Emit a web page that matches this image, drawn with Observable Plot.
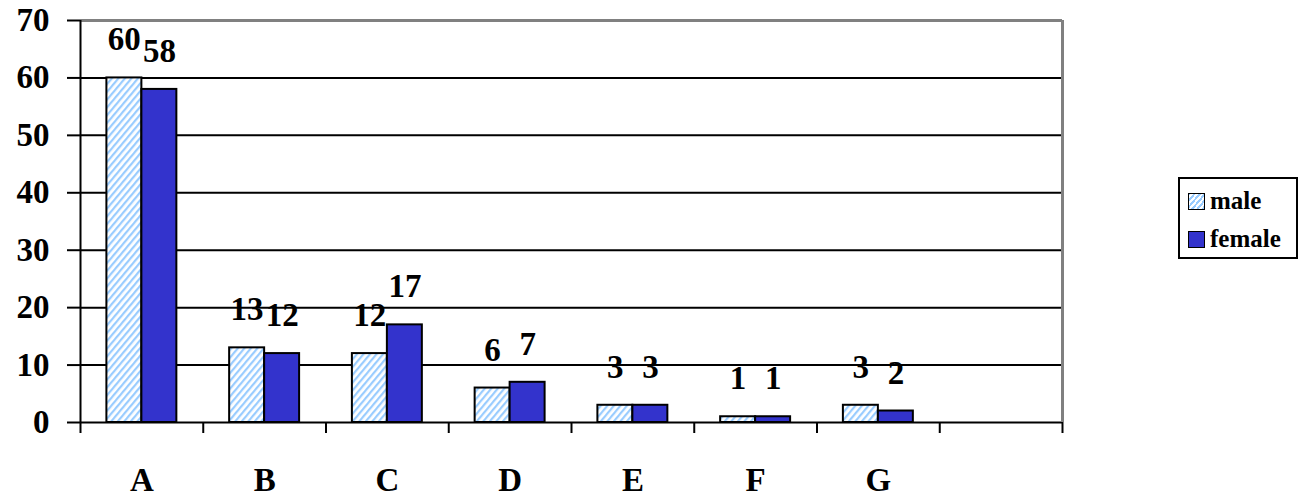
<!DOCTYPE html>
<html>
<head>
<meta charset="utf-8">
<script src="https://cdn.jsdelivr.net/npm/d3@7"></script>
<script src="https://cdn.jsdelivr.net/npm/@observablehq/plot@0.6"></script>
<style>
  html, body { margin: 0; padding: 0; background: #fff; }
  #wrap { position: relative; width: 1302px; height: 500px; }
  #legend {
    position: absolute; left: 1178px; top: 177px; width: 116px; height: 78px;
    border: 2px solid #000; background: #fff;
    font-family: "Liberation Serif", Tinos, "DejaVu Serif", serif; font-weight: bold; font-size: 25px;
  }
  .item { position: absolute; left: 8px; display: flex; align-items: center; height: 20px; }
  .sw { width: 15px; height: 15px; border: 1.5px solid #000; margin-right: 5px; box-sizing: content-box; }
  svg text { font-family: "Liberation Serif", Tinos, "DejaVu Serif", serif !important; }
</style>
</head>
<body>
<div id="wrap"></div>
<script>
// ---- data ----
const categories = ["A", "B", "C", "D", "E", "F", "G"];
const male = [60, 13, 12, 6, 3, 1, 3];
const female = [58, 12, 17, 7, 3, 1, 2];
const yTicks = [0, 10, 20, 30, 40, 50, 60, 70];
const seriesNames = ["male", "female"];
const maleColor = "#99CCFF";
const femaleColor = "#3333CC";

const slots = categories.length + 1; // one empty slot at the right
const rows = categories.map((c, i) => ({cat: c, i, male: male[i], female: female[i]}));
const slotEdges = d3.range(0, slots + 1);

const font = "Liberation Serif, Tinos, DejaVu Serif, serif";
const fs = 33;

const chart = Plot.plot({
  width: 1302,
  height: 500,
  marginLeft: 80,
  marginRight: 240,
  marginTop: 20,
  marginBottom: 78,
  style: {fontFamily: font, fontWeight: "bold", fontSize: fs + "px", background: "#fff", color: "#000"},
  x: {domain: [0, slots], axis: null},
  y: {domain: [0, 70], axis: null},
  marks: [
    // gridlines
    Plot.ruleY(yTicks.filter(t => t < 70), {stroke: "#000", strokeWidth: 2}),
    Plot.ruleY([70], {stroke: "#808080", strokeWidth: 3}),
    Plot.ruleX([slots], {y1: 0, y2: 70, stroke: "#808080", strokeWidth: 3}),
    // y axis
    Plot.ruleX([0], {y1: 0, y2: 70, stroke: "#000", strokeWidth: 2}),
    Plot.axisY({ticks: yTicks, tickSize: 13, tickPadding: 18, fontSize: fs, fontWeight: "bold", strokeWidth: 2, stroke: "#000"}),
    // x axis: category boundary ticks
    Plot.axisX({ticks: slotEdges, tickSize: 11, tickFormat: () => "", strokeWidth: 2, stroke: "#000"}),
    // bars
    Plot.rectY(rows, {x1: d => d.i + 0.215, x2: d => d.i + 0.5, y: "male", fill: "url(#hatch)", stroke: "#000", strokeWidth: 2}),
    Plot.rectY(rows, {x1: d => d.i + 0.5, x2: d => d.i + 0.785, y: "female", fill: femaleColor, stroke: "#000", strokeWidth: 2}),
    // data labels
    Plot.text(rows, {x: d => d.i + 0.357, y: "male", text: d => String(d.male), dy: -38, lineAnchor: "middle", fontSize: fs, fontWeight: "bold", fill: "#000"}),
    Plot.text(rows, {x: d => d.i + 0.643, y: "female", text: d => String(d.female), dy: -38, lineAnchor: "middle", fontSize: fs, fontWeight: "bold", fill: "#000"}),
    // category labels
    Plot.text(rows, {x: d => d.i + 0.5, y: () => 0, text: "cat", dy: 58, lineAnchor: "middle", fontSize: fs, fontWeight: "bold", fill: "#000"})
  ]
});

// hatch pattern for the male series
const svg = d3.select(chart);
const defs = svg.insert("defs", ":first-child");
const pat = defs.append("pattern")
  .attr("id", "hatch")
  .attr("patternUnits", "userSpaceOnUse")
  .attr("width", 5).attr("height", 5)
  .attr("patternTransform", "rotate(40)");
pat.append("rect").attr("width", 5).attr("height", 5).attr("fill", "#fff");
pat.append("rect").attr("width", 2.2).attr("height", 5).attr("fill", maleColor);

const wrap = document.getElementById("wrap");
wrap.appendChild(chart);

// legend
const legend = document.createElement("div");
legend.id = "legend";
seriesNames.forEach((name, k) => {
  const item = document.createElement("div");
  item.className = "item";
  item.style.top = (k === 0 ? 12 : 50) + "px";
  const sw = document.createElement("div");
  sw.className = "sw";
  sw.style.background = k === 0
    ? `repeating-linear-gradient(-50deg, ${maleColor} 0 2px, #fff 2px 4px)`
    : femaleColor;
  const lab = document.createElement("span");
  lab.textContent = name;
  item.appendChild(sw);
  item.appendChild(lab);
  legend.appendChild(item);
});
wrap.appendChild(legend);
</script>
</body>
</html>
